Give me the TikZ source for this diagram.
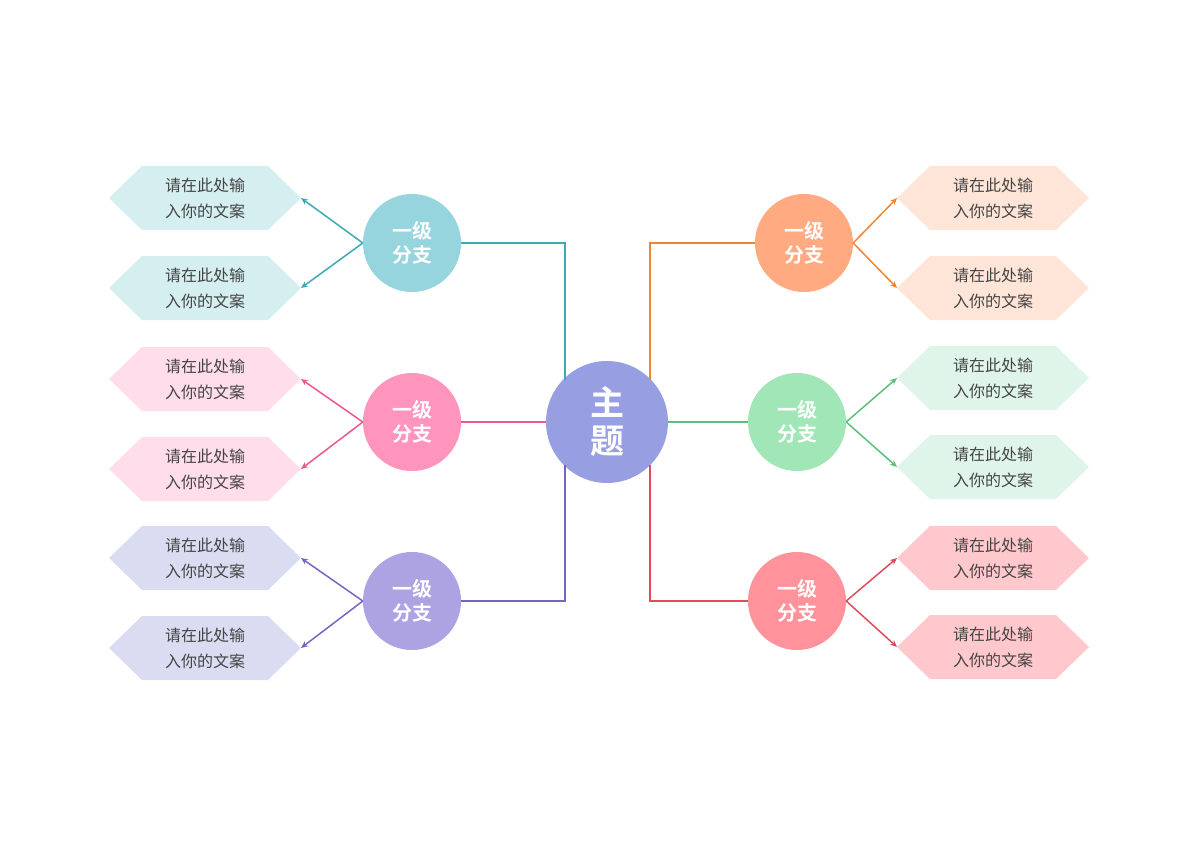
\documentclass[tikz,border=0pt]{standalone}
\usepackage{fontspec}
\newfontfamily\cjk{Noto Sans CJK SC}
\newfontfamily\cjkb{Noto Sans CJK SC Bold}
\usetikzlibrary{arrows.meta}
\definecolor{cA}{HTML}{96D5DE}\definecolor{lA}{HTML}{3AAAB5}\definecolor{hA}{HTML}{D5EEF0}
\definecolor{cB}{HTML}{FF94BD}\definecolor{lB}{HTML}{EE5592}\definecolor{hB}{HTML}{FFDDEA}
\definecolor{cC}{HTML}{ADA3E3}\definecolor{lC}{HTML}{7B63C4}\definecolor{hC}{HTML}{DADDF2}
\definecolor{cD}{HTML}{FFAA80}\definecolor{lD}{HTML}{F08430}\definecolor{hD}{HTML}{FFE5D7}
\definecolor{cE}{HTML}{A0E6B6}\definecolor{lE}{HTML}{5CBF7E}\definecolor{hE}{HTML}{E0F5EA}
\definecolor{cF}{HTML}{FF929A}\definecolor{lF}{HTML}{E04B5E}\definecolor{hF}{HTML}{FFC8CC}
\definecolor{cM}{HTML}{979FE2}\definecolor{tx}{HTML}{444444}
\tikzset{
 br/.style={circle,minimum size=98pt,inner sep=0pt,text=white,font=\cjkb\fontsize{20}{24}\selectfont,align=center},
 ht/.style={text=tx,font=\cjk\fontsize{16}{26}\selectfont,align=center,inner sep=0pt},
 con/.style={line width=2.6pt},
 arr/.style={line width=1.5pt,-{Stealth[length=7pt,width=6pt]}},
}
\newcommand{\hexa}[4]{% x y fill name
 \fill[#3] (#1-96,#2) -- (#1-63,#2-32) -- (#1+63,#2-32) -- (#1+96,#2) -- (#1+63,#2+32) -- (#1-63,#2+32) -- cycle;
 \node[ht] (#4) at (#1,#2) {请在此处输\\入你的文案};
 \coordinate (#4L) at (#1-96,#2);
 \coordinate (#4R) at (#1+96,#2);}
\begin{document}
\begin{tikzpicture}[x=1pt,y=-1pt]
\useasboundingbox (0,0) rectangle (1200,848);
\node[circle,fill=cM,minimum size=122pt,inner sep=0pt,text=white,font=\cjkb\fontsize{34}{38}\selectfont,align=center] (m) at (607,422) {主\\题};
\node[br,fill=cA] (a) at (412,243) {一级\\分支};
\node[br,fill=cB] (b) at (412,422) {一级\\分支};
\node[br,fill=cC] (c) at (412,601) {一级\\分支};
\node[br,fill=cD] (d) at (804,243) {一级\\分支};
\node[br,fill=cE] (e) at (797,422) {一级\\分支};
\node[br,fill=cF] (f) at (797,601) {一级\\分支};
\draw[con,lA] (a.east) -| (m.north west -| 565,0) |- (565,380);
\draw[con,lA] (a.east) -| (565,380);
\draw[con,lB] (b.east) -- (m.west);
\draw[con,lC] (c.east) -| (565,465);
\draw[con,lD] (d.west) -| (650,380);
\draw[con,lE] (e.west) -- (m.east);
\draw[con,lF] (f.west) -| (650,465);
\hexa{205}{198}{hA}{a1}\hexa{205}{288}{hA}{a2}
\hexa{205}{379}{hB}{b1}\hexa{205}{469}{hB}{b2}
\hexa{205}{558}{hC}{c1}\hexa{205}{648}{hC}{c2}
\hexa{993}{198}{hD}{d1}\hexa{993}{288}{hD}{d2}
\hexa{993}{378}{hE}{e1}\hexa{993}{467}{hE}{e2}
\hexa{993}{558}{hF}{f1}\hexa{993}{647}{hF}{f2}
\draw[arr,lA] (a.west) -- (a1R); \draw[arr,lA] (a.west) -- (a2R);
\draw[arr,lB] (b.west) -- (b1R); \draw[arr,lB] (b.west) -- (b2R);
\draw[arr,lC] (c.west) -- (c1R); \draw[arr,lC] (c.west) -- (c2R);
\draw[arr,lD] (d.east) -- (d1L); \draw[arr,lD] (d.east) -- (d2L);
\draw[arr,lE] (e.east) -- (e1L); \draw[arr,lE] (e.east) -- (e2L);
\draw[arr,lF] (f.east) -- (f1L); \draw[arr,lF] (f.east) -- (f2L);
\end{tikzpicture}
\end{document}
